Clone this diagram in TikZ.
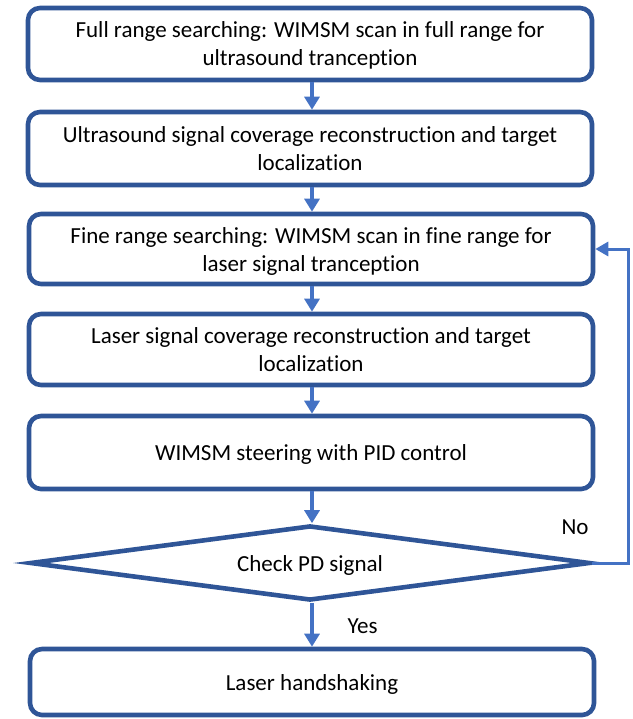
\documentclass[tikz,border=0pt]{standalone}
\usepackage{fontspec}
\setmainfont{Carlito}[Ligatures={NoCommon,NoRare}]
\usetikzlibrary{arrows.meta,shapes.geometric}
\definecolor{boxblue}{HTML}{2F5597}
\definecolor{arrowblue}{HTML}{4472C4}
\tikzset{
  txt/.style={font=\fontsize{23}{28}\selectfont, text height=20pt, text depth=4pt},
  twolines/.style={text height=48pt, text depth=4pt},
  stepbox/.style={txt, draw=boxblue, line width=4.6pt, rounded corners=12pt,
    minimum width=564pt, inner sep=0pt, align=center},
  decision/.style={txt, diamond, draw=boxblue, line width=4.6pt, aspect=7,
    minimum width=560pt, minimum height=75pt, inner sep=0pt},
  flow/.style={draw=arrowblue, line width=4pt, -{Triangle[width=15pt,length=13pt]}},
  back/.style={draw=arrowblue, line width=3pt, -{Triangle[width=14pt,length=13pt]}}
}
\begin{document}
\begin{tikzpicture}[x=1pt,y=-1pt]
\useasboundingbox (0,0) rectangle (632,719);
\node[stepbox, twolines, minimum height=72pt] (b1) at (310,44)
  {Full range searching: WIMSM scan in full range for\\ultrasound tranception};
\node[stepbox, twolines, minimum height=73pt] (b2) at (310,148.5)
  {Ultrasound signal coverage reconstruction and target\\localization};
\node[stepbox, twolines, minimum height=70pt] (b3) at (311,249)
  {Fine range searching: WIMSM scan in fine range for\\laser signal tranception};
\node[stepbox, twolines, minimum height=71pt] (b4) at (311,349.5)
  {Laser signal coverage reconstruction and target\\localization};
\node[stepbox, minimum height=73pt] (b5) at (311,452.5)
  {WIMSM steering with PID control};
\node[decision] (d) at (310,563) {Check PD signal};
\node[stepbox, minimum height=66pt] (b6) at (312,682)
  {Laser handshaking};
\coordinate (lx) at (628,0);

\draw[flow] (312,0 |- b1.south) -- (312,0 |- b2.north);
\draw[flow] (312,0 |- b2.south) -- (312,0 |- b3.north);
\draw[flow] (312,0 |- b3.south) -- (312,0 |- b4.north);
\draw[flow] (312,0 |- b4.south) -- (312,0 |- b5.north);
\draw[flow] (312,0 |- b5.south) -- (312,0 |- d.north);
\draw[flow] (312,0 |- d.south) -- (312,0 |- b6.north);
\draw[back] (d.east) -- (d.east -| lx) |- (b3.east);

\node[txt] (no) at (575,526.5) {No};
\node[txt] (yes) at (362.5,625) {Yes};
\end{tikzpicture}
\end{document}
